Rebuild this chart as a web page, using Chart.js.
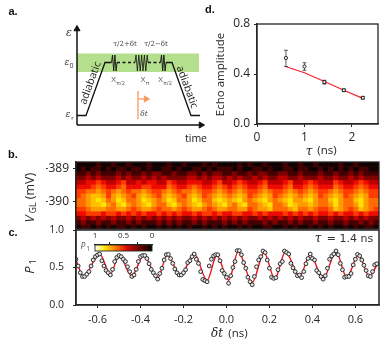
<!DOCTYPE html>
<html><head><meta charset="utf-8">
<script src="https://cdn.jsdelivr.net/npm/chart.js@4"></script>
<style>html,body{margin:0;padding:0;background:#fff}
#w{position:relative;width:391px;height:349px;overflow:hidden}
#w div{position:absolute;left:0;top:0;width:391px;height:349px}
</style></head><body><div id="w"></div>
<script>
// ---------- data ----------
const tauValues=[0.61,1.0,1.42,1.83,2.23];
const echoValues=[0.528,0.46,0.335,0.27,0.21];
const echoLow=[0.46,0.43,0.32,0.26,0.20];
const echoHigh=[0.59,0.49,0.35,0.28,0.22];
const echoFitTau=[0.6,1.0,1.42,1.83,2.23];
const echoFitVal=[0.46,0.41,0.34,0.27,0.205];
const dTicksX=[0,1,2], dTicksY=[0,0.4,0.8];

const vglTicks=[-389,-390];
const vglEdges=[-388.79,-388.925,-389.06,-389.195,-389.33,-389.465,-389.6,-389.735,-389.87,-390.005,-390.14,-390.275,-390.41,-390.545,-390.68,-390.82];
const heatRows=[
"0000100100 1000100010 0100010100 0010100100 0100100100 0010010000",
"0101101011 0110100110 1001101011 1010011010 0110110010 1010101100",
"1121211121 2112122112 1122121221 1211212211 2211211121 1211212111",
"2232322232 3223232322 2233232332 3232232322 3322322232 2322323222",
"3344543345 3343443354 3344433453 3454334533 3453345433 3543345433",
"4445654456 4445544465 4456544565 4565445644 4564456544 4654456544",
"5566765676 5667655676 5667655676 5676556765 5676567655 6765567655",
"5678875787 6578765787 6578756787 6787567875 6787678756 7875678755",
"6678986798 6679876798 6679866898 7897678976 7897789766 8976689766",
"6678897689 7678976689 7678976789 7689667896 6798778766 7976679766",
"5567776677 6567765667 6567765677 6677567786 6678667655 6876568765",
"4455545545 4545445454 5445455454 4554454544 4545454544 5454454544",
"2323232322 3232323232 3223232323 2323223232 3232322322 3223232322",
"1211211211 2121112121 2112121112 1212111212 1121211211 2112112121",
"0110101011 0101001010 1010010101 0010100110 0101001010 1001010110"];
const heatLevels=["#120000","#440000","#800000","#c00000","#ee0c00","#ff3c00","#ff6c00","#ff9a00","#ffc000","#ffe400"];

const dtValues=[-0.70,-0.69,-0.68,-0.67,-0.66,-0.65,-0.64,-0.63,-0.62,-0.61,-0.60,-0.59,-0.58,-0.57,-0.56,-0.55,-0.54,-0.53,-0.52,-0.51,
-0.50,-0.49,-0.48,-0.47,-0.46,-0.45,-0.44,-0.43,-0.42,-0.41,-0.40,-0.39,-0.38,-0.37,-0.36,-0.35,-0.34,-0.33,-0.32,-0.31,
-0.30,-0.29,-0.28,-0.27,-0.26,-0.25,-0.24,-0.23,-0.22,-0.21,-0.20,-0.19,-0.18,-0.17,-0.16,-0.15,-0.14,-0.13,-0.12,-0.11,
-0.10,-0.09,-0.08,-0.07,-0.06,-0.05,-0.04,-0.03,-0.02,-0.01,0.00,0.01,0.02,0.03,0.04,0.05,0.06,0.07,0.08,0.09,
0.10,0.11,0.12,0.13,0.14,0.15,0.16,0.17,0.18,0.19,0.20,0.21,0.22,0.23,0.24,0.25,0.26,0.27,0.28,0.29,
0.30,0.31,0.32,0.33,0.34,0.35,0.36,0.37,0.38,0.39,0.40,0.41,0.42,0.43,0.44,0.45,0.46,0.47,0.48,0.49,
0.50,0.51,0.52,0.53,0.54,0.55,0.56,0.57,0.58,0.59,0.60,0.61,0.62,0.63,0.64,0.65,0.66,0.67,0.68,0.69,0.70];
const p1Values=[0.61,0.52,0.43,0.38,0.38,0.41,0.445,0.52,0.60,0.645,0.667,0.68,0.59,0.52,0.46,0.43,0.40,0.475,0.58,0.635,
0.66,0.645,0.61,0.58,0.51,0.445,0.38,0.40,0.475,0.58,0.645,0.66,0.66,0.62,0.55,0.475,0.43,0.39,0.345,0.42,
0.49,0.60,0.67,0.675,0.62,0.555,0.48,0.43,0.40,0.40,0.43,0.47,0.565,0.59,0.645,0.68,0.61,0.555,0.445,0.34,
0.325,0.31,0.52,0.61,0.655,0.67,0.67,0.59,0.46,0.42,0.37,0.29,0.39,0.50,0.58,0.725,0.725,0.67,0.565,0.49,
0.37,0.31,0.27,0.38,0.51,0.60,0.645,0.72,0.70,0.60,0.49,0.37,0.355,0.365,0.47,0.55,0.58,0.72,0.70,0.68,
0.555,0.495,0.445,0.39,0.40,0.365,0.445,0.55,0.62,0.68,0.62,0.60,0.46,0.43,0.38,0.345,0.39,0.49,0.61,0.655,
0.68,0.72,0.67,0.555,0.47,0.37,0.38,0.38,0.42,0.535,0.61,0.675,0.655,0.60,0.53,0.46,0.39,0.38,0.445,0.535,0.55];
const fitDt=[-0.70,-0.665,-0.59,-0.54,-0.50,-0.44,-0.385,-0.32,-0.275,-0.215,-0.15,-0.09,-0.045,0.01,0.055,0.12,0.175,0.225,0.275,0.34,0.39,0.45,0.51,0.56,0.615,0.665,0.70];
const fitP1=[0.60,0.38,0.68,0.41,0.66,0.39,0.66,0.36,0.67,0.39,0.68,0.33,0.66,0.33,0.71,0.30,0.70,0.35,0.71,0.38,0.67,0.35,0.71,0.37,0.67,0.38,0.53];
const cTicksX=[-0.6,-0.4,-0.2,0,0.2,0.4,0.6], cTicksY=[0,0.5,1];
const colorbarValues=[1,0.97,0.93,0.9,0.87,0.83,0.8,0.77,0.73,0.7,0.67,0.63,0.6,0.57,0.53,0.5,0.47,0.43,0.4,0.37,0.33,0.3,0.27,0.23,0.2,0.17,0.13,0.1,0.07,0.03,0];
const colorbarTicks=[1,0.5,0];

// schematic (panel a), arbitrary units
const traceIn=[[0,9.5],[9,9.5],[28,62.5],[34.5,62.5]];
const pulse1=[[34.5,62.5],[35.5,70],[36.7,54],[37.9,70],[39.1,54],[40,62.5]];
const dash1=[[40,62.5],[58,62.5]];
const pulse2=[[58,62.5],[59,70],[60.4,54],[61.8,70],[63.2,54],[64.6,70],[66,54],[67.4,70],[68.8,54],[70.2,70],[71,62.5]];
const dash2=[[71,62.5],[83.5,62.5]];
const pulse3=[[83.5,62.5],[84.5,70],[85.7,54],[86.9,70],[88.1,54],[89,62.5]];
const traceOut=[[89,62.5],[95,62.5],[114,9.5],[123,9.5]];
const bandX=[0,122], bandLow=53, bandHigh=71.5;
const delayLine=[[61,6],[61,34]];
const delayArrow=[[61,26],[69,26]];

// ---------- helpers ----------
const UI='"Open Sans"', INK='#262626';
const xy=a=>a.map(p=>({x:p[0],y:p[1]}));
const ser=(x,y)=>x.map((v,i)=>({x:v,y:y[i]}));
const textPlugin={id:'txt',afterDraw(c,a,o){const g=c.ctx;(o.items||[]).forEach(t=>{g.save();g.translate(t[1],t[2]);g.rotate((t[4]||0)*Math.PI/180);g.font=t[3];g.fillStyle=t[5]||INK;g.textAlign=t[6]||'center';g.textBaseline='middle';g.fillText(t[0],0,0);g.restore();});}};
const framePlugin={id:'frm',afterDraw(c,a,o){if(!o.w)return;const g=c.ctx,r=c.chartArea;g.save();g.strokeStyle=o.c||INK;g.lineWidth=o.w;g.strokeRect(r.left,r.top,r.right-r.left,r.bottom-r.top);g.restore();}};
function pad(l,t,r,b,L,B,top){return {autoPadding:false,padding:{left:l-L,top:top?t-B:t,right:391-r,bottom:top?349-b:349-b-B}};}
function panel(cfg){const d=document.createElement('div');const c=document.createElement('canvas');c.width=391;c.height=349;c.style.cssText='width:391px;height:349px;display:block';d.appendChild(c);document.getElementById('w').appendChild(d);
 cfg.options.responsive=false;cfg.options.animation=false;cfg.options.events=[];
 cfg.plugins=[textPlugin,framePlugin];return new Chart(c,cfg);}
function axis(min,max,ticks,L,B,isY,size,fmt,tickPad,extra){return Object.assign({type:'linear',min,max,offset:false,
 afterFit(s){if(isY)s.width=L;else s.height=B;},
 afterBuildTicks(s){s.ticks=ticks.map(v=>({value:v}));},
 grid:{drawOnChartArea:false,drawTicks:true,tickLength:3,tickColor:INK,tickWidth:1},
 border:{display:true,color:INK,width:1.3},
 ticks:{autoSkip:false,maxRotation:0,padding:tickPad,color:INK,font:{family:UI,size},callback:fmt}},extra||{});}

// ---------- panel a ----------
const lineDs=(d,o)=>Object.assign({type:'scatter',showLine:true,data:xy(d),borderColor:'#111',borderWidth:1.3,pointRadius:0,tension:0,clip:false},o||{});
panel({type:'scatter',data:{datasets:[
 {type:'line',data:bandX.map(v=>({x:v,y:bandHigh})),borderWidth:0,pointRadius:0,fill:{target:{value:bandLow}},backgroundColor:'#b4df8c',order:9},
 lineDs([[0,0],[0,96]],{borderWidth:1.5,order:1,pointRadius:[0,3.5],pointStyle:'triangle',pointBackgroundColor:'#111',pointBorderColor:'#111',pointBorderWidth:1}),
 lineDs([[0,0],[124,0]],{borderWidth:1.5,order:1,pointRadius:[0,3.5],pointStyle:'triangle',pointRotation:90,pointBackgroundColor:'#111',pointBorderColor:'#111',pointBorderWidth:1}),
 lineDs(traceIn),lineDs(pulse1,{borderWidth:0.9}),lineDs(dash1,{borderDash:[3,2.5]}),lineDs(pulse2,{borderWidth:0.8}),lineDs(dash2,{borderDash:[3,2.5]}),lineDs(pulse3,{borderWidth:0.9}),lineDs(traceOut),
 lineDs(delayLine,{borderColor:'#f79a5f',borderWidth:1.3}),
 lineDs(delayArrow,{borderColor:'#f79a5f',borderWidth:1.3,pointRadius:[0,3],pointStyle:'triangle',pointRotation:90,pointBackgroundColor:'#f79a5f',pointBorderColor:'#f79a5f'})
]},options:{layout:{autoPadding:false,padding:{left:77,top:29,right:190,bottom:224}},
 scales:{x:{type:'linear',display:false,min:0,max:124},y:{type:'linear',display:false,min:0,max:96}},
 plugins:{legend:{display:false},tooltip:{enabled:false},txt:{items:[
  ['a.',13,12,'bold 11px "Liberation Sans"',0,'#111'],
  ['ε',69,33,'italic 11px "DejaVu Serif"',0,'#333'],
  ['ε',67,63,'italic 9px "DejaVu Serif"',0,'#333'],['0',71.5,66,'7px "Open Sans"',0,'#333'],
  ['ε',68,115,'italic 9px "DejaVu Serif"',0,'#333'],['r',72.5,118,'6px "Open Sans"',0,'#333'],
  ['adiabatic',90.5,83,'10.5px "Open Sans"',-70],['adiabatic',187,87,'10.5px "Open Sans"',70],
  ['τ/2+δt',125,44,'7px "DejaVu Serif"',0,'#444'],['τ/2−δt',156,44,'7px "DejaVu Serif"',0,'#444'],
  ['X',113.5,80,'8px "Open Sans"',0,'#555'],['π/2',120.5,83,'5.5px "Open Sans"',0,'#555'],
  ['X',143,80,'8px "Open Sans"',0,'#555'],['π',147.5,83,'5.5px "Open Sans"',0,'#555'],
  ['X',160.5,80,'8px "Open Sans"',0,'#555'],['π/2',167.5,83,'5.5px "Open Sans"',0,'#555'],
  ['δt',144,114,'italic 7.5px "DejaVu Serif"',0,'#444'],
  ['time',196,139,'10.5px "Open Sans"',0,'#222']
 ]}}}});

// ---------- panel d ----------
const errData=[];tauValues.forEach((t,i)=>{errData.push({x:t,y:echoLow[i]},{x:t,y:echoHigh[i]},{x:t,y:NaN});});
panel({type:'scatter',data:{datasets:[
 {type:'scatter',showLine:true,data:ser(echoFitTau,echoFitVal),borderColor:'#f0202a',borderWidth:1.2,pointRadius:0,order:3},
 {type:'scatter',showLine:true,data:errData,borderColor:'#333',borderWidth:0.8,pointStyle:'line',pointRadius:2,pointBorderColor:'#333',pointBorderWidth:0.8,spanGaps:false,order:2},
 {type:'scatter',data:ser(tauValues,echoValues),pointStyle:['circle','circle','rect','rect','rect'],pointRadius:[1.6,1.6,2,2,2],pointBackgroundColor:'#fff',pointBorderColor:'#111',pointBorderWidth:0.9,order:1}
]},options:{layout:pad(257,24,378,124,30,20),
 scales:{x:axis(0,2.55,dTicksX,30,20,false,12,v=>String(v),3),y:axis(0,0.8,dTicksY,30,20,true,12,v=>v.toFixed(1),4)},
 plugins:{legend:{display:false},tooltip:{enabled:false},frm:{w:1.3},txt:{items:[
  ['d.',210,10,'bold 11px "Liberation Sans"',0,'#111'],
  ['Echo amplitude',221,74.5,'11.5px "Open Sans"',-90],
  ['τ',309,152,'italic 12px "DejaVu Serif"'],['(ns)',327,151,'11.5px "Open Sans"']
 ]}}}});

// ---------- panel b ----------
const heatCells=heatRows.map(r=>r.replace(/ /g,''));
const columns=heatCells[0].split('').map((_,i)=>String(i));
panel({type:'bar',data:{labels:columns,datasets:heatCells.map((row,r)=>({
  data:columns.map(()=>[vglEdges[r+1],vglEdges[r]]),
  backgroundColor:columns.map((_,i)=>heatLevels[+row[i]||0]),borderWidth:0,barPercentage:1,categoryPercentage:1,grouped:false}))},
 options:{layout:pad(76,162,379,229,30,0),
 scales:{x:{type:'category',display:false},
  y:axis(-390.82,-388.79,vglTicks,30,0,true,12,v=>String(v),4)},
 plugins:{legend:{display:false},tooltip:{enabled:false},frm:{w:1.3},txt:{items:[
  ['b.',13,155,'bold 11px "Liberation Sans"',0,'#111'],
  ['V',30,219,'italic 13px "Open Sans"',-90],['GL',33,208,'9px "Open Sans"',-90],['(mV)',30,186,'12.5px "Open Sans"',-90]
 ]}}}});

// ---------- panel c ----------
panel({type:'scatter',data:{datasets:[
 {type:'scatter',showLine:true,data:ser(fitDt,fitP1),cubicInterpolationMode:'monotone',borderColor:'#f0101a',borderWidth:1.4,pointRadius:0,order:2},
 {type:'scatter',data:ser(dtValues,p1Values),pointRadius:1.9,pointBackgroundColor:'#e8e8e8',pointBorderColor:'#1a1a1a',pointBorderWidth:0.9,order:1}
]},options:{layout:pad(76,230,379,305,30,30),
 scales:{x:axis(-0.7,0.71,cTicksX,30,30,false,11,v=>v.toFixed(1),5),y:axis(0,1,cTicksY,30,30,true,10.5,v=>v.toFixed(1),9)},
 plugins:{legend:{display:false},tooltip:{enabled:false},frm:{w:1.5},txt:{items:[
  ['c.',13,233,'bold 11px "Liberation Sans"',0,'#111'],
  ['P',30,270,'italic 13px "Open Sans"',-90],['1',33,262,'9px "Open Sans"',-90],
  ['δt',217,334,'italic 12px "DejaVu Serif"'],['(ns)',238,334,'11.5px "Open Sans"'],
  ['τ',318,239,'italic 12px "DejaVu Serif"'],['= 1.4 ns',350,239,'11px "DejaVu Sans"',0,'#333'],
  ['P',83,247,'italic 8.5px "Open Sans"',0,'#555'],['1',88,249,'6.5px "Open Sans"',0,'#555']
 ]}}}});

// ---------- colour bar inset ----------
const cbStops=[[0,[0,0,0]],[0.2,[110,0,0]],[0.45,[225,10,0]],[0.65,[255,130,0]],[0.85,[255,235,20]],[1,[255,255,235]]];
function cbColor(v){for(let i=1;i<cbStops.length;i++){const a=cbStops[i-1],b=cbStops[i];if(v<=b[0]){const f=(v-a[0])/(b[0]-a[0]);return 'rgb('+a[1].map((c,k)=>Math.round(c+(b[1][k]-c)*f)).join(',')+')';}}return '#fff';}
panel({type:'bar',data:{labels:colorbarValues.map(String),datasets:[{xAxisID:'x',data:colorbarValues.map(()=>1),backgroundColor:colorbarValues.map(cbColor),borderWidth:0,barPercentage:1,categoryPercentage:1}]},
 options:{layout:pad(95,245,152,251,0,14,true),
 scales:{x:{type:'category',display:false},
  xTop:axis(0,1,colorbarTicks,0,14,false,8,v=>String(v),1,{position:'top',reverse:true}),
  y:{type:'linear',display:false,min:0,max:1}},
 plugins:{legend:{display:false},tooltip:{enabled:false},frm:{w:0.9}}}});
</script></body></html>
